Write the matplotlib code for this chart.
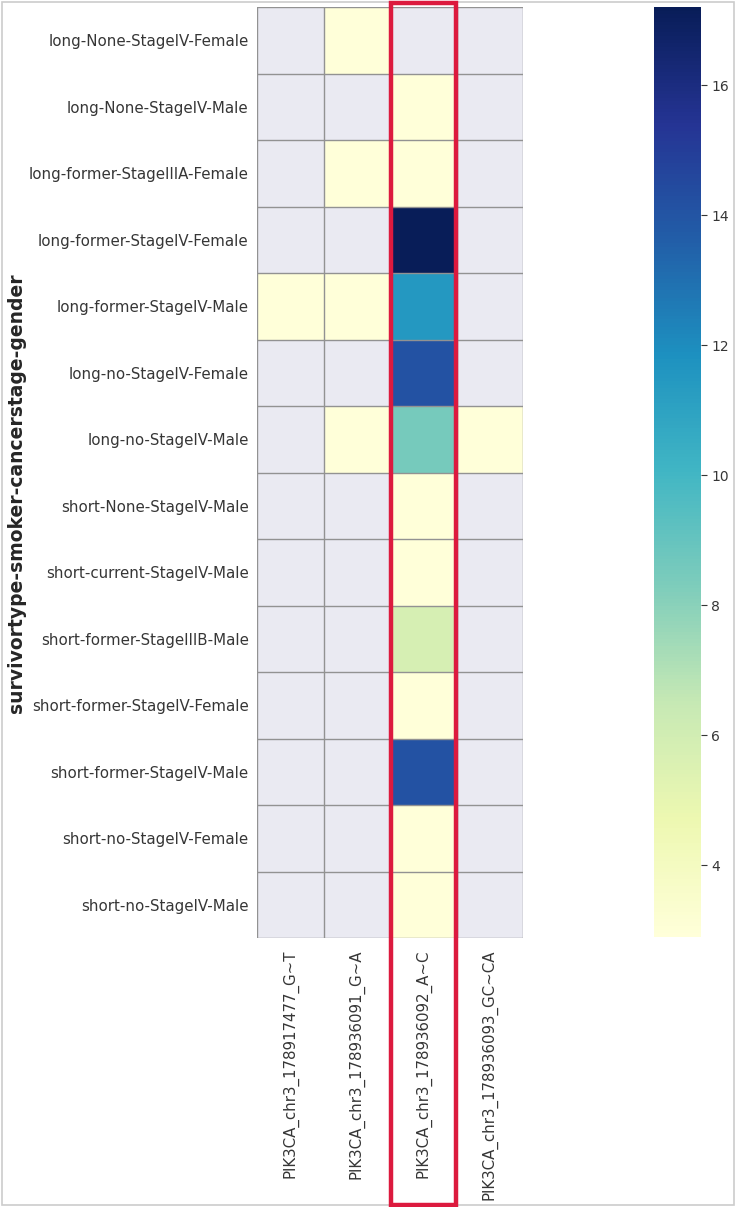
import numpy as np
import matplotlib
matplotlib.use("Agg")
import matplotlib.pyplot as plt
from matplotlib.patches import Rectangle
from matplotlib import transforms

rows = [
    "long-None-StageIV-Female",
    "long-None-StageIV-Male",
    "long-former-StageIIIA-Female",
    "long-former-StageIV-Female",
    "long-former-StageIV-Male",
    "long-no-StageIV-Female",
    "long-no-StageIV-Male",
    "short-None-StageIV-Male",
    "short-current-StageIV-Male",
    "short-former-StageIIIB-Male",
    "short-former-StageIV-Female",
    "short-former-StageIV-Male",
    "short-no-StageIV-Female",
    "short-no-StageIV-Male",
]
cols = [
    "PIK3CA_chr3_178917477_G~T",
    "PIK3CA_chr3_178936091_G~A",
    "PIK3CA_chr3_178936092_A~C",
    "PIK3CA_chr3_178936093_GC~CA",
]
nan = np.nan
col1 = [nan, nan, nan, nan, 2.9, nan, nan, nan, nan, nan, nan, nan, nan, nan]
col2 = [2.9, nan, 2.9, nan, 2.9, nan, 2.9, nan, nan, nan, nan, nan, nan, nan]
col3 = [nan, 2.9, 2.9, 17.2, 11.5, 14.1, 8.5, 2.9, 2.9, 5.8, 2.9, 14.1, 2.9, 2.9]
col4 = [nan, nan, nan, nan, nan, nan, 2.9, nan, nan, nan, nan, nan, nan, nan]
ylabel = "survivortype-smoker-cancerstage-gender"
highlight_col = 2

data = np.ma.masked_invalid(np.array([col1, col2, col3, col4]).T)

W, H = 737, 1207
fig = plt.figure(figsize=(W / 100, H / 100), dpi=100)

def fax(l, t, r, b):
    return [l / W, 1 - b / H, (r - l) / W, (b - t) / H]

ax = fig.add_axes(fax(257, 7, 523, 938))
ax.set_facecolor("#EAEAF2")
allv = col1 + col2 + col3 + col4
mesh = ax.pcolormesh(data, cmap="YlGnBu", edgecolors="none",
                     vmin=np.nanmin(allv), vmax=np.nanmax(allv))
ax.set_xlim(0, len(cols))
ax.set_ylim(len(rows), 0)
for i in range(len(rows) + 1):
    ax.axhline(i, color="#929292", lw=1.0, zorder=3)
for j in range(len(cols) + 1):
    ax.axvline(j, color="#929292", lw=1.0, zorder=3)
for s in ax.spines.values():
    s.set_visible(False)
ax.set_xticks(np.arange(len(cols)) + 0.5)
ax.set_xticklabels(cols, rotation=90, fontsize=10.8, color="#363636")
ax.set_yticks(np.arange(len(rows)) + 0.5)
ax.set_yticklabels(rows, fontsize=10.8, color="#363636")
ax.tick_params(axis="x", length=0, pad=8)
ax.tick_params(axis="y", length=0, pad=6)

fig.text(17 / W, 1 - 493 / H, ylabel, rotation=90, fontsize=13.5, fontweight="bold",
         color="#262626", ha="center", va="center")

cax = fig.add_axes(fax(654, 7, 701, 937))
cb = fig.colorbar(mesh, cax=cax)
cb.set_ticks([4, 6, 8, 10, 12, 14, 16])
cb.outline.set_visible(False)
cax.tick_params(labelsize=10, colors="#363636", length=4, width=0.8)

tr = transforms.blended_transform_factory(ax.transData, fig.transFigure)
rect = Rectangle((highlight_col + 0.01, 2.5 / H), 0.98, (H - 5) / H, transform=tr,
                 fill=False, edgecolor="#DC1A3E", linewidth=3.2, clip_on=False, zorder=10)
fig.add_artist(rect)

border = Rectangle((2 / W, 2 / H), (W - 5) / W, (H - 4) / H, transform=fig.transFigure,
                   fill=False, edgecolor="#cccccc", linewidth=1.2)
fig.add_artist(border)

fig.savefig("out.png", dpi=100)
